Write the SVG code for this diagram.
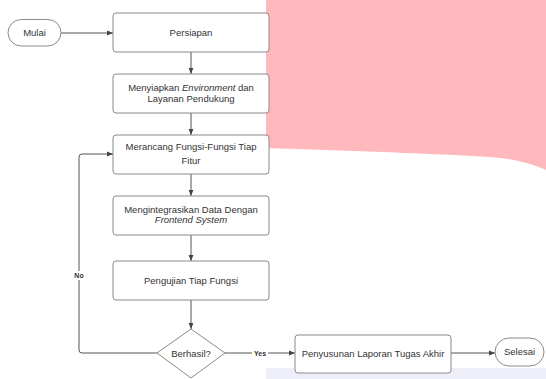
<svg xmlns="http://www.w3.org/2000/svg" width="546" height="379" viewBox="0 0 546 379">
<defs>
<style>
.box{fill:#fff;stroke:#8a8a8a;stroke-width:1}
.t{font-family:"Liberation Sans",Arial,sans-serif;font-size:9.5px;fill:#333;text-anchor:middle}
.lbl{font-family:"Liberation Sans",Arial,sans-serif;font-size:7px;font-weight:bold;fill:#333;text-anchor:middle}
.c{fill:none;stroke:#555;stroke-width:1}
</style>
<marker id="ah" viewBox="0 0 10 10" refX="10" refY="5" markerWidth="6" markerHeight="6" orient="auto" markerUnits="userSpaceOnUse">
<path d="M0,1 L10,5 L0,9 Z" fill="#444"/>
</marker>
</defs>
<rect width="546" height="379" fill="#fff"/>
<path d="M266,0 H546 V170 C530,163 515,159 490,157 C420,153 330,150 266,148 Z" fill="#ffb8bc"/>
<rect x="266" y="368" width="280" height="11" fill="#eeeef8"/>
<g id="connectors">
<path class="c" d="M61,33 H113" marker-end="url(#ah)"/>
<path class="c" d="M191,52 V74" marker-end="url(#ah)"/>
<path class="c" d="M191,113 V135" marker-end="url(#ah)"/>
<path class="c" d="M191,174 V196" marker-end="url(#ah)"/>
<path class="c" d="M191,235 V261" marker-end="url(#ah)"/>
<path class="c" d="M191,300 V329" marker-end="url(#ah)"/>
<path class="c" d="M157,353 H82 Q79,353 79,350 V157 Q79,154 82,154 H113" marker-end="url(#ah)"/>
<path class="c" d="M225,353 H295" marker-end="url(#ah)"/>
<path class="c" d="M451,353 H495" marker-end="url(#ah)"/>
<rect x="72" y="271" width="14" height="9" fill="#fff"/>
<text class="lbl" x="79" y="278">No</text>
<rect x="252" y="349" width="16" height="9" fill="#fff"/>
<text class="lbl" x="260" y="356">Yes</text>
</g>
<g id="mulai">
<rect class="box" x="8" y="19.5" width="53" height="26.5" rx="13.25"/>
<text class="t" x="34.5" y="36">Mulai</text>
</g>
<g id="persiapan">
<rect class="box" x="113" y="13" width="156" height="39" rx="3"/>
<text class="t" x="191" y="36">Persiapan</text>
</g>
<g id="menyiapkan">
<rect class="box" x="113" y="74" width="156" height="39" rx="3"/>
<text class="t" x="191" y="91">Menyiapkan <tspan font-style="italic">Environment</tspan> dan</text>
<text class="t" x="191" y="102">Layanan Pendukung</text>
</g>
<g id="merancang">
<rect class="box" x="113" y="135" width="156" height="39" rx="3"/>
<text class="t" x="191" y="150">Merancang Fungsi-Fungsi Tiap</text>
<text class="t" x="191" y="164">Fitur</text>
</g>
<g id="mengintegrasikan">
<rect class="box" x="113" y="196" width="156" height="39" rx="3"/>
<text class="t" x="191" y="213">Mengintegrasikan Data Dengan</text>
<text class="t" x="191" y="223" font-style="italic">Frontend System</text>
</g>
<g id="pengujian">
<rect class="box" x="113" y="261" width="156" height="39" rx="3"/>
<text class="t" x="191" y="283.5">Pengujian Tiap Fungsi</text>
</g>
<g id="berhasil">
<path class="box" d="M191,329 L225,353 L191,378 L157,353 Z"/>
<text class="t" x="191" y="356.5">Berhasil?</text>
</g>
<g id="penyusunan">
<rect class="box" x="295" y="335" width="156" height="38" rx="3"/>
<text class="t" x="373" y="357">Penyusunan Laporan Tugas Akhir</text>
</g>
<g id="selesai">
<rect class="box" x="495" y="338" width="49" height="28" rx="14"/>
<text class="t" x="519.5" y="355">Selesai</text>
</g>
</svg>
